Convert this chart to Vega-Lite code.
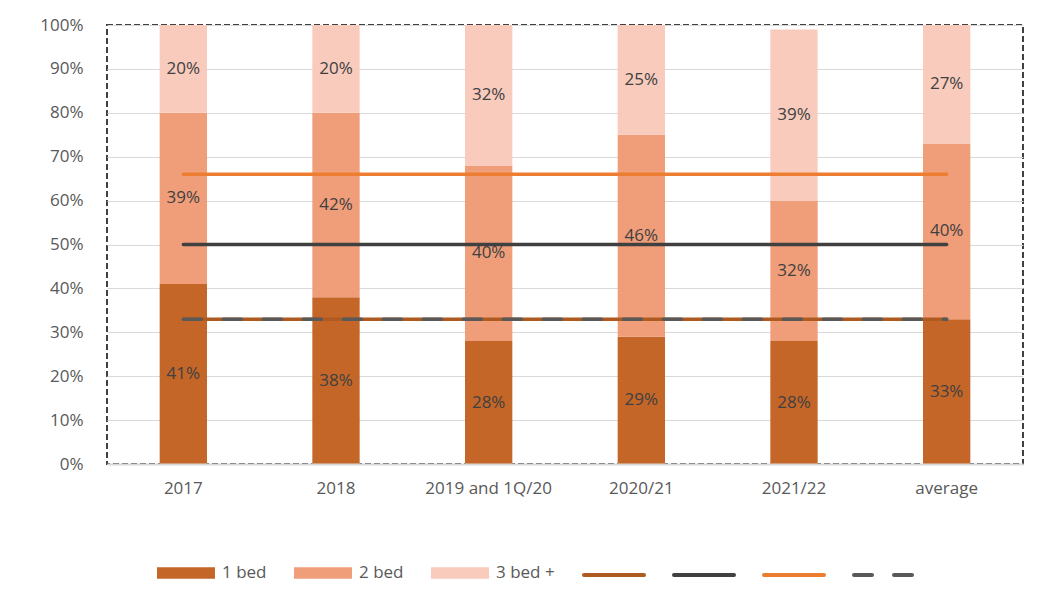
{
  "$schema": "https://vega.github.io/schema/vega-lite/v6.json",
  "width": 916,
  "height": 439,
  "autosize": {"type": "none"},
  "padding": {"left": 107, "top": 25, "right": 21, "bottom": 132},
  "background": "white",
  "config": {
    "font": "Open Sans",
    "view": {"stroke": "#404040", "strokeDash": [6, 3], "strokeWidth": 2},
    "axis": {
      "labelFont": "Open Sans",
      "labelFontSize": 17,
      "labelColor": "#595959",
      "ticks": false,
      "title": null,
      "gridColor": "#D9D9D9",
      "gridWidth": 1,
      "domainColor": "#D9D9D9"
    }
  },
  "datasets": {
    "bars": [
      {"cat": "2017", "type": "1 bed", "ord": 1, "value": 0.41},
      {"cat": "2017", "type": "2 bed", "ord": 2, "value": 0.39},
      {"cat": "2017", "type": "3 bed +", "ord": 3, "value": 0.20},
      {"cat": "2018", "type": "1 bed", "ord": 1, "value": 0.38},
      {"cat": "2018", "type": "2 bed", "ord": 2, "value": 0.42},
      {"cat": "2018", "type": "3 bed +", "ord": 3, "value": 0.20},
      {"cat": "2019 and 1Q/20", "type": "1 bed", "ord": 1, "value": 0.28},
      {"cat": "2019 and 1Q/20", "type": "2 bed", "ord": 2, "value": 0.40},
      {"cat": "2019 and 1Q/20", "type": "3 bed +", "ord": 3, "value": 0.32},
      {"cat": "2020/21", "type": "1 bed", "ord": 1, "value": 0.29},
      {"cat": "2020/21", "type": "2 bed", "ord": 2, "value": 0.46},
      {"cat": "2020/21", "type": "3 bed +", "ord": 3, "value": 0.25},
      {"cat": "2021/22", "type": "1 bed", "ord": 1, "value": 0.28},
      {"cat": "2021/22", "type": "2 bed", "ord": 2, "value": 0.32},
      {"cat": "2021/22", "type": "3 bed +", "ord": 3, "value": 0.39},
      {"cat": "average", "type": "1 bed", "ord": 1, "value": 0.33},
      {"cat": "average", "type": "2 bed", "ord": 2, "value": 0.40},
      {"cat": "average", "type": "3 bed +", "ord": 3, "value": 0.27}
    ],
    "lines": [
      {"cat": "2017", "series": "l1", "value": 0.33},
      {"cat": "2018", "series": "l1", "value": 0.33},
      {"cat": "2019 and 1Q/20", "series": "l1", "value": 0.33},
      {"cat": "2020/21", "series": "l1", "value": 0.33},
      {"cat": "2021/22", "series": "l1", "value": 0.33},
      {"cat": "average", "series": "l1", "value": 0.33},
      {"cat": "2017", "series": "l2", "value": 0.50},
      {"cat": "2018", "series": "l2", "value": 0.50},
      {"cat": "2019 and 1Q/20", "series": "l2", "value": 0.50},
      {"cat": "2020/21", "series": "l2", "value": 0.50},
      {"cat": "2021/22", "series": "l2", "value": 0.50},
      {"cat": "average", "series": "l2", "value": 0.50},
      {"cat": "2017", "series": "l3", "value": 0.66},
      {"cat": "2018", "series": "l3", "value": 0.66},
      {"cat": "2019 and 1Q/20", "series": "l3", "value": 0.66},
      {"cat": "2020/21", "series": "l3", "value": 0.66},
      {"cat": "2021/22", "series": "l3", "value": 0.66},
      {"cat": "average", "series": "l3", "value": 0.66},
      {"cat": "2017", "series": "l4", "value": 0.33},
      {"cat": "2018", "series": "l4", "value": 0.33},
      {"cat": "2019 and 1Q/20", "series": "l4", "value": 0.33},
      {"cat": "2020/21", "series": "l4", "value": 0.33},
      {"cat": "2021/22", "series": "l4", "value": 0.33},
      {"cat": "average", "series": "l4", "value": 0.33}
    ]
  },
  "layer": [
    {
      "data": {"name": "bars"},
      "mark": {"type": "bar"},
      "encoding": {
        "x": {
          "field": "cat",
          "type": "nominal",
          "sort": null,
          "scale": {
            "domain": ["2017", "2018", "2019 and 1Q/20", "2020/21", "2021/22", "average"],
            "paddingInner": 0.69,
            "paddingOuter": 0.345
          },
          "axis": {"labelAngle": 0, "labelPadding": 16, "grid": false, "domainWidth": 2, "zindex": 1}
        },
        "y": {
          "field": "value",
          "type": "quantitative",
          "stack": "zero",
          "scale": {"domain": [0, 1], "nice": false},
          "axis": {
            "format": ".0%",
            "values": [0, 0.1, 0.2, 0.3, 0.4, 0.5, 0.6, 0.7, 0.8, 0.9, 1],
            "labelPadding": 24,
            "domain": false,
            "grid": true
          }
        },
        "color": {
          "field": "type",
          "type": "nominal",
          "scale": {"domain": ["1 bed", "2 bed", "3 bed +"], "range": ["#C46628", "#F09E7A", "#F8CBBD"]},
          "legend": {
            "orient": "none",
            "legendX": 50,
            "legendY": 519,
            "direction": "horizontal",
            "title": null,
            "padding": 0,
            "symbolType": "M-1,-0.2H1V0.2H-1Z",
            "symbolSize": 3364,
            "symbolStrokeWidth": 0,
            "symbolOpacity": 1,
            "labelFont": "Open Sans",
            "labelFontSize": 17,
            "labelColor": "#595959",
            "labelOffset": 7,
            "columnPadding": 27
          }
        },
        "order": {"field": "ord", "type": "quantitative"}
      }
    },
    {
      "data": {"name": "bars"},
      "transform": [
        {"stack": "value", "groupby": ["cat"], "sort": [{"field": "ord"}], "as": ["v0", "v1"]},
        {"calculate": "(datum.v0 + datum.v1) / 2", "as": "mid"}
      ],
      "mark": {"type": "text", "font": "Open Sans", "fontSize": 17, "color": "#404040"},
      "encoding": {
        "x": {"field": "cat", "type": "nominal", "sort": null},
        "y": {"field": "mid", "type": "quantitative"},
        "text": {"field": "value", "type": "quantitative", "format": ".0%"}
      }
    },
    {
      "data": {"name": "lines"},
      "mark": {"type": "line", "strokeWidth": 3.5, "strokeCap": "round"},
      "encoding": {
        "x": {"field": "cat", "type": "nominal", "sort": null},
        "y": {"field": "value", "type": "quantitative"},
        "stroke": {
          "field": "series",
          "type": "nominal",
          "scale": {"domain": ["l1", "l2", "l3", "l4"], "range": ["#AE5A21", "#404040", "#ED7D31", "#595959"]},
          "legend": {
            "orient": "none",
            "legendX": 475,
            "legendY": 518,
            "direction": "horizontal",
            "title": null,
            "padding": 0,
            "symbolType": "stroke",
            "symbolSize": 3600,
            "symbolStrokeWidth": 4,
            "labelExpr": "''",
            "labelOffset": 0,
            "columnPadding": 14,
            "encode": {"symbols": {"update": {"strokeCap": {"value": "round"}}}}
          }
        },
        "strokeDash": {
          "field": "series",
          "type": "nominal",
          "scale": {"domain": ["l1", "l2", "l3", "l4"], "range": [[1, 0], [1, 0], [1, 0], [18, 22]]},
          "legend": {
            "orient": "none",
            "legendX": 475,
            "legendY": 518,
            "direction": "horizontal",
            "title": null,
            "padding": 0,
            "symbolType": "stroke",
            "symbolSize": 3600,
            "symbolStrokeWidth": 4,
            "labelExpr": "''",
            "labelOffset": 0,
            "columnPadding": 14,
            "encode": {"symbols": {"update": {"strokeCap": {"value": "round"}}}}
          }
        }
      }
    }
  ]
}
